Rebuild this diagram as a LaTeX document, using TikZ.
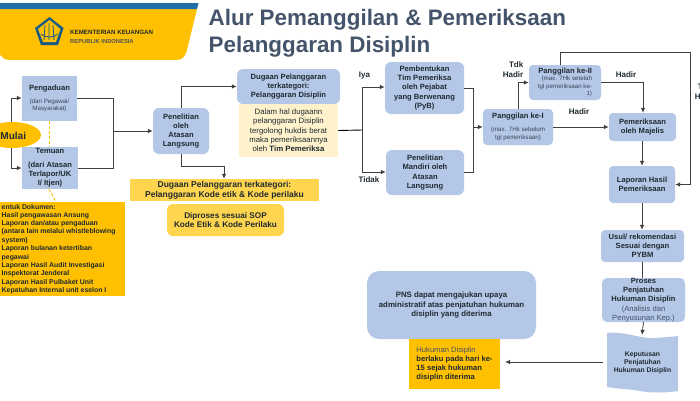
\documentclass[tikz,border=0pt]{standalone}
\usepackage{fontspec}
\setmainfont{Liberation Sans}
\usetikzlibrary{arrows.meta,shapes.geometric}
\definecolor{bluebox}{HTML}{B4C7E7}
\definecolor{amber}{HTML}{FFC000}
\definecolor{softamber}{HTML}{FFD54F}
\definecolor{cream}{HTML}{FFF2CC}
\definecolor{slate}{HTML}{44546A}
\definecolor{inktxt}{HTML}{1F2A30}
\definecolor{headblue}{HTML}{1F6FA8}
\definecolor{wire}{HTML}{404040}
\newcommand{\noteline}[1]{{\normalfont\fontsize{6.2}{7}\selectfont\color{slate!85!black} #1}}
\tikzset{
 boxbase/.style={inner sep=0pt,align=center,text=inktxt,font=\bfseries\fontsize{7.6}{9.2}\selectfont},
 square/.style={boxbase,fill=bluebox},
 round/.style={boxbase,fill=bluebox,rounded corners=6pt},
 wire/.style={draw=wire,line width=0.8pt},
 flow/.style={wire,-{Latex[length=5pt,width=4.5pt]}},
 lab/.style={inner sep=0pt,text=inktxt,font=\bfseries\fontsize{8}{10}\selectfont,align=right},
 dashy/.style={draw=amber,line width=0.9pt,dash pattern=on 3pt off 2pt},
 titletext/.style={anchor=base west,inner sep=0pt,text=slate,font=\bfseries\fontsize{22.4}{27}\selectfont},
}
% \bx{name}{x1}{y1}{x2}{y2}{style}{text}
\newcommand{\bx}[7]{%
 \pgfmathsetmacro{\bxw}{#4-#2}\pgfmathsetmacro{\bxh}{#5-#3}%
 \pgfmathsetmacro{\bxx}{(#2+#4)/2}\pgfmathsetmacro{\bxy}{(#3+#5)/2}%
 \node[#6,minimum width=\bxw pt,minimum height=\bxh pt] (#1) at (\bxx,\bxy) {#7};}
\begin{document}
\begin{tikzpicture}[x=1pt,y=-1pt]
\useasboundingbox (0,0) rectangle (700,400);
\fill[white] (0,0) rectangle (700,400);
% header
\fill[amber] (0,9) -- (197,9) -- (187,50) .. controls (185,57) and (182,60) .. (176,60) -- (10,60) .. controls (5,60) and (2,58) .. (0,55) -- cycle;
\fill[headblue] (0,3) -- (198.5,3) -- (197,9) -- (0,9) -- cycle;
% logo
\fill[headblue!80!black] (49.5,17) -- (63.5,28) -- (58,45) -- (41,45) -- (35,28) -- cycle;
\fill[amber] (49.5,20) -- (60.5,29) -- (56,42) -- (43,42) -- (38,29) -- cycle;
\draw[headblue!80!black,line width=0.8pt] (45,25) -- (44,40) (49,23) -- (49,40) (53,25) -- (54,40) (41,34) .. controls (45,38) and (54,38) .. (58,34);
\node[anchor=west,inner sep=0pt,text=inktxt,font=\bfseries\fontsize{6.2}{7}\selectfont] (kem) at (70,32) {KEMENTERIAN KEUANGAN};
\node[anchor=west,inner sep=0pt,text=inktxt!80,font=\bfseries\fontsize{5.8}{7}\selectfont] (rep) at (70,41.3) {REPUBLIK INDONESIA};
\node[titletext] (t1) at (208.5,25) {Alur Pemanggilan \& Pemeriksaan};
\node[titletext] (t2) at (208.5,52.5) {Pelanggaran Disiplin};
% nodes
\node[fill=amber,minimum width=58pt,minimum height=26pt,inner sep=0pt,ellipse] (mulaibg) at (12,135) {};
\node[boxbase,anchor=west,font=\bfseries\fontsize{10}{11}\selectfont] (mulai) at (0.3,135.5) {Mulai};
\bx{peng}{22}{76}{77}{121}{square}{Pengaduan\\[3.6pt]\noteline{(dari Pegawai/}\\[-1.7pt]\noteline{Masyarakat)}}
\bx{temu}{22}{147}{78}{189}{square}{Temuan\\[4.5pt](dari Atasan\\Terlapor/UK\\I/ Itjen)}
\bx{docs}{-5}{202}{125}{296}{boxbase,fill=amber}{}
\bx{teliti}{153}{108}{209}{154}{round}{Penelitian\\oleh\\Atasan\\Langsung}
\bx{dug}{237}{69}{340}{104}{round}{Dugaan Pelanggaran\\terkategori:\\Pelanggaran Disiplin}
\bx{cremebox}{239}{104}{338}{157}{boxbase,fill=cream,font=\fontsize{7.8}{9.3}\selectfont}{Dalam hal dugaann\\pelanggaran Disiplin\\tergolong hukdis berat\\maka pemeriksaannya\\oleh \textbf{Tim Pemeriksa}}
\bx{kode}{130}{179}{319}{201}{boxbase,fill=softamber,font=\bfseries\fontsize{8.5}{10}\selectfont}{Dugaan Pelanggaran terkategori:\\Pelanggaran Kode etik \& Kode perilaku}
\bx{sop}{167}{204}{284}{236}{boxbase,fill=softamber,rounded corners=6pt,font=\bfseries\fontsize{8.2}{9.6}\selectfont}{Diproses sesuai SOP\\Kode Etik \& Kode Perilaku}
\bx{tim}{385}{62}{464}{114}{round}{Pembentukan\\Tim Pemeriksa\\oleh Pejabat\\yang Berwenang\\(PyB)}
\bx{mandiri}{386}{150}{464}{195}{round}{Penelitian\\Mandiri oleh\\Atasan\\Langsung}
\bx{pgsatu}{483}{109}{553}{145}{boxbase,fill=bluebox,rounded corners=4pt}{Panggilan ke-I\\[3.8pt]\noteline{(max. 7Hk sebelum}\\[-1.5pt]\noteline{tgl pemeriksaan)}}
\bx{pgdua}{529}{65}{601}{100}{boxbase,fill=bluebox,rounded corners=4pt,align=right}{Panggilan ke-II\\[-1.8pt]\noteline{(max. 7Hk setelah}\\[-1.8pt]\noteline{tgl pemeriksaan ke-}\\[-1.8pt]\noteline{1)}}
\bx{majelis}{609}{113}{676}{141}{boxbase,fill=bluebox,rounded corners=4pt}{Pemeriksaan\\oleh Majelis}
\bx{lhp}{609}{166}{675}{203}{boxbase,fill=bluebox,rounded corners=4pt}{Laporan Hasil\\Pemeriksaan}
\bx{usul}{601}{230}{684}{262}{boxbase,fill=bluebox,rounded corners=4pt}{Usul/ rekomendasi\\Sesuai dengan\\PYBM}
\bx{proses}{602}{278}{685}{322}{boxbase,fill=bluebox,rounded corners=5pt}{Proses\\Penjatuhan\\Hukuman Disiplin\\\textmd{\color{slate}(Analisis dan}\\\textmd{\color{slate}Penyusunan Kep.)}}
\fill[bluebox] (607,333) .. controls (625,331) and (640,339) .. (655,338) .. controls (665,337) and (672,337) .. (678,336) -- (678,391) .. controls (665,393) and (650,393) .. (640,391) .. controls (630,389) and (618,389) .. (607,387) -- cycle;
\bx{kep}{607}{338}{678}{388}{boxbase,font=\bfseries\fontsize{6.8}{8}\selectfont}{Keputusan\\Penjatuhan\\Hukuman Disiplin}
\bx{pns}{367}{271}{536}{339}{boxbase,fill=bluebox,rounded corners=12pt,font=\bfseries\fontsize{7.8}{9.4}\selectfont}{PNS dapat mengajukan upaya\\administratif atas penjatuhan hukuman\\disiplin yang diterima}
\bx{huk}{409}{339}{500}{389}{boxbase,fill=amber,align=left,font=\bfseries\fontsize{7.6}{9.3}\selectfont}{{\normalfont\color{slate}Hukuman Disiplin}\\berlaku pada hari ke-\\15 sejak hukuman\\disiplin diterima}
% document list
\foreach \yy/\lbl in {207/{entuk Dokumen:},216/{Hasil pengawasan Ansung},224/{Laporan dan/atau pengaduan},232/{(antara lain melalui whistleblowing},241/{system)},249/{Laporan bulanan ketertiban},258/{pegawai},266/{Laporan Hasil Audit Investigasi},274/{Inspektorat Jenderal},283/{Laporan Hasil Pulbaket Unit},291/{Kepatuhan Internal unit eselon I}}
 \node[anchor=west,inner sep=0pt,text=inktxt,font=\bfseries\fontsize{6.9}{8}\selectfont] at (1.5,\yy) {\lbl};
% dashed yellow
\draw[dashy] (peng.south) -- (temu.north -| peng.south);
\draw[dashy] (49,189) -- (docs.north -| 56,0);
% connectors
\coordinate (mtop) at (11,122);
\coordinate (mbot) at (11,148);
\coordinate (j1) at (113.5,131);
\draw[flow] (mbot) |- (temu.west |- 0,168);
\draw[flow] (mtop) |- (peng.west |- 0,98);
\draw[wire] (peng.east |- 0,98) -| (j1);
\draw[wire] (temu.east |- 0,168) -| (j1);
\draw[flow] (j1) -- (teliti.west);
\draw[flow] (teliti.north) |- (dug.west);
\coordinate (kk) at (224,166);
\draw[flow] (teliti.south) |- (kk) -- (kk |- kode.north);
\coordinate (j2) at (362,130);
\draw[line width=0.9pt,draw=black] (cremebox.east) -- (j2);
\draw[flow] (j2) |- (tim.west |- 0,87);
\draw[flow] (j2) |- (mandiri.west |- 0,172);
\coordinate (j3) at (473,127);
\draw[wire] (tim.east |- 0,88) -| (j3);
\draw[wire] (mandiri.east |- 0,172) -| (j3);
\draw[flow] (j3) -- (pgsatu.west);
\draw[flow] (pgsatu.north) |- (pgdua.west);
\draw[flow] (pgsatu.east) -- (majelis.west |- pgsatu.east);
\draw[flow] (pgdua.east) -| (majelis.north -| 643,0);
\coordinate (rt) at (690,52);
\coordinate (pgtop) at (560,65);
\draw[flow] (pgtop) |- (rt) |- (lhp.east);
\draw[flow] (majelis.south -| 642,0) -- (lhp.north -| 642,0);
\draw[flow] (lhp.south) -- (usul.north -| lhp.south);
\draw[wire] (usul.south) -- (proses.north -| usul.south);
\draw[flow] (proses.south) -- (642,335);
\coordinate (kepl) at (603,362);
\draw[flow] (kepl) -- (505,362);
% labels
\node[lab] (iya) at (364.5,76) {Iya};
\node[lab] (tidak) at (369,179.5) {Tidak};
\node[lab,anchor=east] (tdk) at (523.5,70) {Tdk\\Hadir};
\node[lab] (h1) at (626,74.5) {Hadir};
\node[lab] (h2) at (579,112) {Hadir};
\node[lab,align=center] (tdk2) at (705,92) {Tdk\\Hadir};
\end{tikzpicture}
\end{document}
